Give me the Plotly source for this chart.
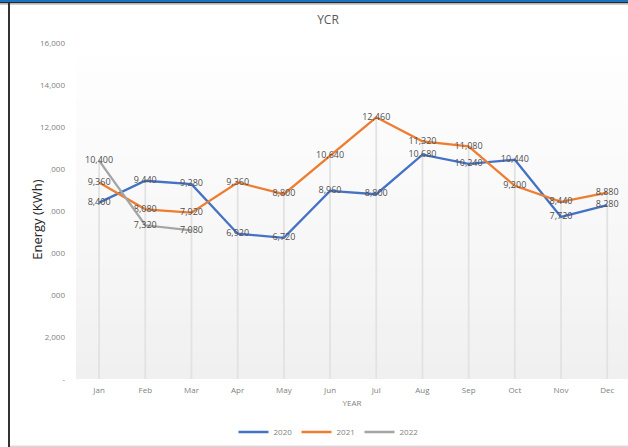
import plotly.graph_objects as go

months = ["Jan", "Feb", "Mar", "Apr", "May", "Jun", "Jul", "Aug", "Sep", "Oct", "Nov", "Dec"]
y2020 = [8400, 9440, 9280, 6920, 6720, 8960, 8800, 10680, 10240, 10440, 7720, 8280]
y2021 = [9360, 8080, 7920, 9360, 8800, 10640, 12460, 11320, 11080, 9200, 8440, 8880]
y2022 = [10400, 7320, 7080, None, None, None, None, None, None, None, None, None]
series = [("2020", y2020, "#4472C4"), ("2021", y2021, "#ED7D31"), ("2022", y2022, "#A5A5A5")]
y_ticks = [0, 2000, 4000, 6000, 8000, 10000, 12000, 14000, 16000]
y_ticktext = ["-", "2,000", "4,000", "6,000", "8,000", "10,000", "12,000", "14,000", "16,000"]

W, H = 628, 447
L, R, T, B = 76, 0, 43, 68
pw, ph = W - L - R, H - T - B

def px(c):
    return (c - L) / pw

def py(r):
    return (H - B - r) / ph

fig = go.Figure()

# drop lines from highest value to axis
dx, dy = [], []
for i, m in enumerate(months):
    vals = [s[1][i] for s in series if s[1][i] is not None]
    dx += [m, m, None]
    dy += [0, max(vals), None]
fig.add_trace(go.Scatter(x=dx, y=dy, mode="lines", line=dict(color="#e2e2e2", width=1.8),
                         showlegend=False, hoverinfo="skip"))

for name, vals, color in series:
    fig.add_trace(go.Scatter(
        x=months, y=vals, name=name, mode="lines+text",
        line=dict(color=color, width=2.3),
        text=[f"{v:,}" if v is not None else "" for v in vals],
        textposition="middle center",
        textfont=dict(family="Open Sans, sans-serif", size=9, color="#505050"),
        cliponaxis=False,
    ))

shapes = []
# gradient plot background
n = 24
for k in range(n):
    t = k / n
    f = (k / (n - 1)) ** 0.8
    g = int(0xF0 + (0xFF - 0xF0) * f)
    shapes.append(dict(type="rect", xref="paper", yref="paper", x0=0, x1=1,
                       y0=t, y1=(k + 1) / n, fillcolor=f"rgb({g},{g},{g})",
                       line=dict(width=0), layer="below"))
# frame
shapes += [
    dict(type="rect", xref="paper", yref="paper", x0=px(0), x1=px(W), y0=py(0), y1=py(2),
         fillcolor="#1b72c0", line=dict(width=0), layer="above"),
    dict(type="rect", xref="paper", yref="paper", x0=px(0), x1=px(W), y0=py(2), y1=py(3.6),
         fillcolor="#2a2a2a", line=dict(width=0), layer="above"),
    dict(type="rect", xref="paper", yref="paper", x0=px(0), x1=px(W), y0=py(3.6), y1=py(5),
         fillcolor="#d0d0d0", line=dict(width=0), layer="above"),
    dict(type="rect", xref="paper", yref="paper", x0=px(8), x1=px(10), y0=py(3), y1=py(H),
         fillcolor="#333333", line=dict(width=0), layer="above"),
    dict(type="rect", xref="paper", yref="paper", x0=px(10), x1=px(W), y0=py(445.5), y1=py(447),
         fillcolor="#d9d9d9", line=dict(width=0), layer="above"),
]

fig.update_layout(
    width=W, height=H,
    margin=dict(l=L, r=R, t=T, b=B),
    paper_bgcolor="white",
    plot_bgcolor="rgba(0,0,0,0)",
    shapes=shapes,
    title=dict(text="YCR", x=328 / W, xref="container", xanchor="center",
               y=1 - 20 / H, yref="container", yanchor="middle",
               font=dict(family="Open Sans, sans-serif", size=12, color="#595959")),
    xaxis=dict(type="category", range=[-0.5, 11.45], showgrid=False, zeroline=False,
               showline=False, ticks="", ticklabelstandoff=5,
               tickfont=dict(family="Open Sans, sans-serif", size=8, color="#7f7f7f"),
               title=dict(text="YEAR", standoff=6,
                          font=dict(family="Open Sans, sans-serif", size=8, color="#7f7f7f"))),
    yaxis=dict(range=[0, 16000], tickvals=y_ticks, ticktext=y_ticktext, showgrid=False,
               zeroline=False, showline=False, ticks="", ticklabelstandoff=10,
               tickfont=dict(family="Open Sans, sans-serif", size=8, color="#7f7f7f")),
    legend=dict(orientation="h", x=328 / W, xref="container", xanchor="center",
                y=1 - 432 / H, yref="container", yanchor="middle",
                font=dict(family="Open Sans, sans-serif", size=8, color="#7f7f7f"),
                itemwidth=30, entrywidth=18, bgcolor="rgba(0,0,0,0)"),
    annotations=[dict(text="Energy (KWh)", textangle=-90, xref="paper", yref="paper",
                      x=px(37), y=py(220), xanchor="center", yanchor="middle",
                      showarrow=False, bgcolor="white", width=165, height=24,
                      font=dict(family="Open Sans, sans-serif", size=13, color="#262626"))],
)

fig.write_html("out.html")
